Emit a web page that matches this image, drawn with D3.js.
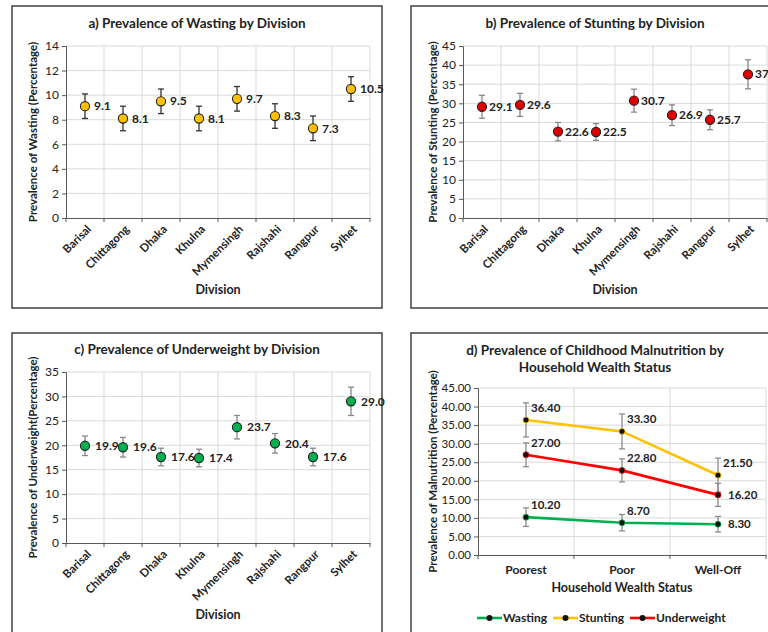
<!DOCTYPE html>
<html><head><meta charset="utf-8">
<script src="https://cdn.jsdelivr.net/npm/d3@7"></script>
<style>body{margin:0;background:#fff}svg{display:block}text{font-family:Lato,"Open Sans",sans-serif}</style>
</head><body><svg id="c" width="768" height="632"></svg>
<script>
const divisions = ["Barisal","Chittagong","Dhaka","Khulna","Mymensingh","Rajshahi","Rangpur","Sylhet"];
const wastingDiv = [9.1,8.1,9.5,8.1,9.7,8.3,7.3,10.5];
const wastingDivErr = [1.0,1.0,1.0,1.0,1.0,1.0,1.0,1.0];
const stuntingDiv = [29.1,29.6,22.6,22.5,30.7,26.9,25.7,37.6];
const stuntingDivErr = [3.0,3.0,2.4,2.2,3.0,2.7,2.6,3.8];
const underweightDiv = [19.9,19.6,17.6,17.4,23.7,20.4,17.6,29.0];
const underweightDivErr = [2.0,2.0,1.8,1.8,2.4,2.0,1.8,2.9];
const wealthGroups = ["Poorest","Poor","Well-Off"];
const wealthWasting = [10.2,8.7,8.3];
const wealthWastingErr = [2.5,2.2,2.1];
const wealthStunting = [36.4,33.3,21.5];
const wealthStuntingErr = [4.6,4.7,4.6];
const wealthUnderweight = [27.0,22.8,16.2];
const wealthUnderweightErr = [3.2,3.1,3.1];
const ticksA = [0,2,4,6,8,10,12,14];
const ticksB = [0,5,10,15,20,25,30,35,40,45];
const ticksC = [0,5,10,15,20,25,30,35];
const ticksD = [0,5,10,15,20,25,30,35,40,45];

const svg = d3.select("#c");
const GRID="#d9d9d9", AXIS="#595959", BORDER="#404040";

function box(x,y,w,h){
  svg.append("rect").attr("x",x).attr("y",y).attr("width",w).attr("height",h)
    .attr("fill","#fff").attr("stroke",BORDER).attr("stroke-width",1.5);
}

function divisionPanel(o){
  const g = svg.append("g");
  const x = d3.scaleBand().domain(divisions).range([o.x0,o.x1]);
  const y = d3.scaleLinear().domain([0,o.ticks[o.ticks.length-1]]).range([o.y0,o.y1]);
  g.selectAll(".hg").data(o.ticks.slice(1)).join("line")
    .attr("x1",o.x0).attr("x2",o.x1).attr("y1",d=>y(d)).attr("y2",d=>y(d)).attr("stroke",GRID);
  g.selectAll(".vg").data(divisions).join("line")
    .attr("x1",d=>x(d)+x.bandwidth()).attr("x2",d=>x(d)+x.bandwidth())
    .attr("y1",o.y0).attr("y2",o.y1).attr("stroke",GRID);
  const ya = g.append("g").attr("transform",`translate(${o.x0},0)`)
    .call(d3.axisLeft(y).tickValues(o.ticks).tickSize(4).tickPadding(3));
  ya.select(".domain").attr("stroke",AXIS);
  ya.selectAll(".tick line").attr("stroke",AXIS);
  ya.selectAll("text").attr("font-size",12).attr("fill","#222");
  const xa = g.append("g").attr("transform",`translate(0,${o.y0})`)
    .call(d3.axisBottom(x).tickSize(0).tickFormat(""));
  xa.select(".domain").attr("stroke",AXIS).attr("stroke-width",1.2);
  g.selectAll(".xt").data([divisions[0]].concat(divisions)).join("line")
    .attr("x1",(d,i)=>i===0?o.x0:x(d)+x.bandwidth()).attr("x2",(d,i)=>i===0?o.x0:x(d)+x.bandwidth())
    .attr("y1",o.y0).attr("y2",o.y0+4).attr("stroke",AXIS);
  g.selectAll(".xl").data(divisions).join("text")
    .attr("transform",d=>`translate(${x(d)+x.bandwidth()/2+4},${o.y0+9}) rotate(-45)`)
    .attr("text-anchor","end").attr("font-size",11.5).attr("font-weight",700).attr("fill","#222")
    .attr("dy","0.35em").text(d=>d);
  const eb = g.selectAll(".eb").data(divisions).join("g");
  eb.append("line").attr("x1",d=>x(d)+x.bandwidth()/2).attr("x2",d=>x(d)+x.bandwidth()/2)
    .attr("y1",(d,i)=>y(o.vals[i]-o.err[i])).attr("y2",(d,i)=>y(o.vals[i]+o.err[i]))
    .attr("stroke",o.errColor).attr("stroke-width",1.3);
  [-1,1].forEach(s=>{
    eb.append("line").attr("x1",d=>x(d)+x.bandwidth()/2-3).attr("x2",d=>x(d)+x.bandwidth()/2+3)
      .attr("y1",(d,i)=>y(o.vals[i]+s*o.err[i])).attr("y2",(d,i)=>y(o.vals[i]+s*o.err[i]))
      .attr("stroke",o.errColor).attr("stroke-width",1.3);
  });
  g.selectAll(".pt").data(divisions).join("circle")
    .attr("cx",d=>x(d)+x.bandwidth()/2).attr("cy",(d,i)=>y(o.vals[i])).attr("r",4.6)
    .attr("fill",o.color).attr("stroke","#222").attr("stroke-width",1.1);
  g.selectAll(".lb").data(divisions).join("text")
    .attr("x",d=>x(d)+x.bandwidth()/2+o.lblDx).attr("y",(d,i)=>y(o.vals[i])).attr("dy","0.35em")
    .attr("font-size",12).attr("font-weight",700).attr("fill","#222")
    .text((d,i)=>d3.format(".1f")(o.vals[i]));
  g.append("text").attr("x",o.cx).attr("y",o.titleY).attr("text-anchor","middle")
    .attr("font-size",13.5).attr("font-weight",700).attr("fill","#222").text(o.title);
  g.append("text").attr("transform",`translate(${o.ytX},${(o.y0+o.y1)/2}) rotate(-90)`)
    .attr("text-anchor","middle").attr("font-size",11.5).attr("font-weight",700).attr("fill","#222").text(o.ytitle);
  g.append("text").attr("x",(o.x0+o.x1)/2).attr("y",o.xtY).attr("text-anchor","middle")
    .attr("font-size",12.5).attr("font-weight",700).attr("fill","#222").text("Division");
}

box(12,6,370,302);
box(411,6,400,302);
box(12,333,370,320);
box(411,333,400,320);

divisionPanel({x0:66,x1:370,y0:218,y1:46,ticks:ticksA,vals:wastingDiv,err:wastingDivErr,color:"#FFC000",
  errColor:"#333",lblDx:9,cx:197,titleY:28,title:"a) Prevalence of Wasting by Division",
  ytX:37,ytitle:"Prevalence of Wasting (Percentage)",xtY:294});
divisionPanel({x0:463,x1:767,y0:218,y1:46,ticks:ticksB,vals:stuntingDiv,err:stuntingDivErr,color:"#E00000",
  errColor:"#888",lblDx:7,cx:595,titleY:28,title:"b) Prevalence of Stunting by Division",
  ytX:437,ytitle:"Prevalence of Stunting (Percentage)",xtY:294});
divisionPanel({x0:66,x1:370,y0:543,y1:372,ticks:ticksC,vals:underweightDiv,err:underweightDivErr,color:"#00B050",
  errColor:"#888",lblDx:10,cx:197,titleY:354,title:"c) Prevalence of Underweight by Division",
  ytX:37,ytitle:"Prevalence of Underweight(Percentage)",xtY:619});

(function(){
  const g = svg.append("g");
  const x0=478,x1=766,y0=555,y1=388;
  const x = d3.scaleBand().domain(wealthGroups).range([x0,x1]);
  const y = d3.scaleLinear().domain([0,45]).range([y0,y1]);
  const cx = d=>x(d)+x.bandwidth()/2;
  g.selectAll(".hg").data(ticksD.slice(1)).join("line")
    .attr("x1",x0).attr("x2",x1).attr("y1",d=>y(d)).attr("y2",d=>y(d)).attr("stroke",GRID);
  g.selectAll(".vg").data(wealthGroups).join("line")
    .attr("x1",d=>x(d)+x.bandwidth()).attr("x2",d=>x(d)+x.bandwidth())
    .attr("y1",y0).attr("y2",y1).attr("stroke",GRID);
  const ya = g.append("g").attr("transform",`translate(${x0},0)`)
    .call(d3.axisLeft(y).tickValues(ticksD).tickFormat(d3.format(".2f")).tickSize(4).tickPadding(3));
  ya.select(".domain").attr("stroke",AXIS);
  ya.selectAll(".tick line").attr("stroke",AXIS);
  ya.selectAll("text").attr("font-size",11.5).attr("fill","#222");
  const xa = g.append("g").attr("transform",`translate(0,${y0})`)
    .call(d3.axisBottom(x).tickSize(0).tickFormat(""));
  xa.select(".domain").attr("stroke",AXIS).attr("stroke-width",1.2);
  g.selectAll(".xt").data([null].concat(wealthGroups)).join("line")
    .attr("x1",(d,i)=>i===0?x0:x(d)+x.bandwidth()).attr("x2",(d,i)=>i===0?x0:x(d)+x.bandwidth())
    .attr("y1",y0).attr("y2",y0+4).attr("stroke",AXIS);
  g.selectAll(".xl").data(wealthGroups).join("text")
    .attr("x",cx).attr("y",y0+19).attr("text-anchor","middle")
    .attr("font-size",12).attr("font-weight",700).attr("fill","#222").text(d=>d);

  const series = [
    {name:"Wasting",vals:wealthWasting,err:wealthWastingErr,color:"#00B050",lbl:["up","up","right"]},
    {name:"Stunting",vals:wealthStunting,err:wealthStuntingErr,color:"#FFC000",lbl:["up","up","up"]},
    {name:"Underweight",vals:wealthUnderweight,err:wealthUnderweightErr,color:"#FF0000",lbl:["up","up","right"]}
  ];
  const line = d3.line().x((d,i)=>cx(wealthGroups[i])).y(d=>y(d));
  series.forEach(s=>{
    const sg = g.append("g");
    wealthGroups.forEach((w,i)=>{
      const xc=cx(w), lo=y(s.vals[i]-s.err[i]), hi=y(s.vals[i]+s.err[i]);
      sg.append("line").attr("x1",xc).attr("x2",xc).attr("y1",lo).attr("y2",hi).attr("stroke","#8c8c8c").attr("stroke-width",1.3);
      [lo,hi].forEach(yy=>sg.append("line").attr("x1",xc-3).attr("x2",xc+3).attr("y1",yy).attr("y2",yy).attr("stroke","#8c8c8c").attr("stroke-width",1.3));
    });
  });
  series.forEach(s=>{
    g.append("path").datum(s.vals).attr("d",line).attr("fill","none").attr("stroke",s.color).attr("stroke-width",2.6);
    g.selectAll(null).data(s.vals).join("circle").attr("cx",(d,i)=>cx(wealthGroups[i])).attr("cy",d=>y(d))
      .attr("r",3).attr("fill","#111").attr("stroke",s.color).attr("stroke-width",0.8);
    g.selectAll(null).data(s.vals).join("text")
      .attr("x",(d,i)=>cx(wealthGroups[i])+(s.lbl[i]==="up"?5:10))
      .attr("y",(d,i)=>y(d)+(s.lbl[i]==="up"?-12:0)).attr("dy","0.35em")
      .attr("font-size",11.5).attr("font-weight",700).attr("fill","#222").text(d=>d3.format(".2f")(d));
  });
  g.append("text").attr("x",595).attr("y",355).attr("text-anchor","middle")
    .attr("font-size",13.5).attr("font-weight",700).attr("fill","#222").text("d) Prevalence of Childhood Malnutrition by");
  g.append("text").attr("x",595).attr("y",372).attr("text-anchor","middle")
    .attr("font-size",13.5).attr("font-weight",700).attr("fill","#222").text("Household Wealth Status");
  g.append("text").attr("transform",`translate(437,${(y0+y1)/2}) rotate(-90)`)
    .attr("text-anchor","middle").attr("font-size",11.5).attr("font-weight",700).attr("fill","#222")
    .text("Prevalence of Malnutrition (Percentage)");
  g.append("text").attr("x",(x0+x1)/2).attr("y",592).attr("text-anchor","middle")
    .attr("font-size",12.5).attr("font-weight",700).attr("fill","#222").text("Household Wealth Status");
  const legX=[477,553,630];
  series.forEach((s,i)=>{
    const lg = g.append("g").attr("transform",`translate(${legX[i]},618)`);
    lg.append("line").attr("x1",0).attr("x2",25).attr("stroke",s.color).attr("stroke-width",2.6);
    lg.append("circle").attr("cx",12.5).attr("r",3).attr("fill","#111");
    lg.append("text").attr("x",26).attr("dy","0.35em").attr("font-size",12).attr("font-weight",700).attr("fill","#222").text(s.name);
  });
})();
</script></body></html>
